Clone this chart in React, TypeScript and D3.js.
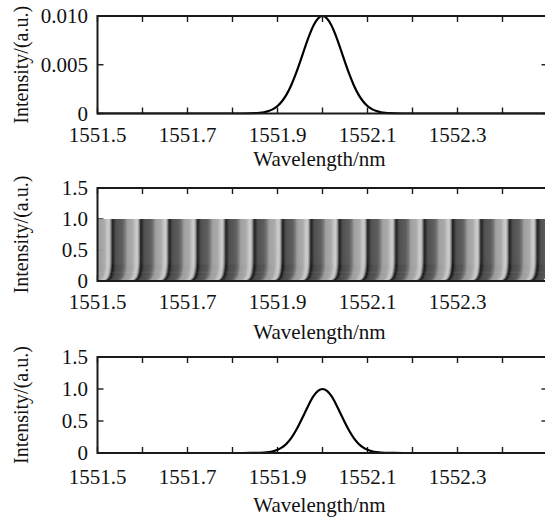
import React from "react";
import * as d3 from "d3";

// ---------- data ----------
const xTicks = [1551.5, 1551.6, 1551.7, 1551.8, 1551.9, 1552.0, 1552.1, 1552.2, 1552.3, 1552.4, 1552.5];
const xTickLabels = ["1551.5", "1551.7", "1551.9", "1552.1", "1552.3"];
const xLabelValues = [1551.5, 1551.7, 1551.9, 1552.1, 1552.3];

const topYTicks = [0, 0.005, 0.01];
const topYLabels = ["0", "0.005", "0.010"];
const unitYTicks = [0, 0.5, 1.0, 1.5];
const unitYLabels = ["0", "0.5", "1.0", "1.5"];

const pulseWavelength = [
  1551.5, 1551.8, 1551.82, 1551.84, 1551.85, 1551.86, 1551.87, 1551.88, 1551.89, 1551.9,
  1551.91, 1551.92, 1551.93, 1551.94, 1551.95, 1551.96, 1551.97, 1551.98, 1551.99, 1552.0,
  1552.01, 1552.02, 1552.03, 1552.04, 1552.05, 1552.06, 1552.07, 1552.08, 1552.09, 1552.1,
  1552.11, 1552.12, 1552.13, 1552.14, 1552.15, 1552.16, 1552.18, 1552.2, 1552.5,
];

const inputIntensity = [
  0, 0, 0.000002, 0.000014, 0.000032, 0.000066, 0.00013, 0.00025, 0.00045, 0.00077,
  0.00126, 0.00194, 0.00285, 0.00398, 0.00527, 0.00664, 0.00794, 0.00903, 0.00975, 0.01,
  0.00975, 0.00903, 0.00794, 0.00664, 0.00527, 0.00398, 0.00285, 0.00194, 0.00126, 0.00077,
  0.00045, 0.00025, 0.00013, 0.000066, 0.000032, 0.000014, 0.000002, 0, 0,
];

const outputIntensity = [
  0, 0, 0.0001, 0.0005, 0.0012, 0.0028, 0.006, 0.013, 0.026, 0.05,
  0.088, 0.146, 0.229, 0.339, 0.472, 0.618, 0.763, 0.887, 0.97, 1.0,
  0.97, 0.887, 0.763, 0.618, 0.472, 0.339, 0.229, 0.146, 0.088, 0.05,
  0.026, 0.013, 0.006, 0.0028, 0.0012, 0.0005, 0.0001, 0, 0,
];

// centres of the dark fringes in the middle (phase-modulated) panel, nm
const fringeCenters = [
  1551.534, 1551.597, 1551.66, 1551.723, 1551.786, 1551.849, 1551.912, 1551.975,
  1552.038, 1552.101, 1552.164, 1552.227, 1552.29, 1552.353, 1552.416, 1552.478,
];
const fringeTop = 1.0;
const fringeBendStart = 0.35;

// ---------- layout ----------
const W = 545;
const H = 518;
const plotLeft = 97.5;
const plotRight = 547.5;
const FONT = "Liberation Serif";
const INK = "#1a1a1a";
const textStyle: React.CSSProperties = { fontFamily: "'Liberation Serif', serif" };

const x = d3.scaleLinear().domain([1551.5, 1552.5]).range([plotLeft, plotRight]);

type PanelProps = {
  id: string;
  top: number;
  bottom: number;
  yMax: number;
  yTicks: number[];
  yLabels: string[];
  tickBaseline: number;
  titleBaseline: number;
  rightTicks: boolean;
  children?: (y: d3.ScaleLinear<number, number>) => React.ReactNode;
};

function Panel({ id, top, bottom, yMax, yTicks, yLabels, tickBaseline, titleBaseline, rightTicks, children }: PanelProps) {
  const y = d3.scaleLinear().domain([0, yMax]).range([bottom, top]);
  const tl = 6;
  return (
    <g>
      <defs>
        <clipPath id={id}>
          <rect x={plotLeft} y={top - 2} width={plotRight - plotLeft} height={bottom - top + 3} />
        </clipPath>
      </defs>
      {xTicks.map((t) => (
        <g key={"xt" + t}>
          <line x1={x(t)} x2={x(t)} y1={bottom} y2={bottom - tl} stroke={INK} strokeWidth={1.4} />
          <line x1={x(t)} x2={x(t)} y1={top} y2={top + tl} stroke={INK} strokeWidth={1.4} />
        </g>
      ))}
      {yTicks.map((t) => (
        <g key={"yt" + t}>
          <line x1={plotLeft} x2={plotLeft + tl} y1={y(t)} y2={y(t)} stroke={INK} strokeWidth={1.4} />
          {rightTicks && (
            <line x1={plotRight} x2={plotRight - tl} y1={y(t)} y2={y(t)} stroke={INK} strokeWidth={1.4} />
          )}
        </g>
      ))}
      <g clipPath={`url(#${id})`}>{children && children(y)}</g>
      <line x1={plotLeft} x2={plotRight} y1={top} y2={top} stroke={INK} strokeWidth={2} />
      <line x1={plotLeft} x2={plotRight} y1={bottom} y2={bottom} stroke={INK} strokeWidth={2} />
      <line x1={plotLeft} x2={plotLeft} y1={top - 1} y2={bottom + 1} stroke={INK} strokeWidth={2} />
      {xLabelValues.map((v, i) => (
        <text key={"xl" + v} x={x(v)} y={tickBaseline} textAnchor="middle" fontFamily={FONT} style={textStyle} fontSize={21} fill="#111">
          {xTickLabels[i]}
        </text>
      ))}
      {yTicks.map((t, i) => (
        <text key={"yl" + t} x={88} y={y(t)} dy="0.35em" textAnchor="end" fontFamily={FONT} style={textStyle} fontSize={21} fill="#111">
          {yLabels[i]}
        </text>
      ))}
      <text x={(plotLeft + plotRight) / 2 - 3} y={titleBaseline} textAnchor="middle" fontFamily={FONT} style={textStyle} fontSize={21} fill="#111">
        Wavelength/nm
      </text>
      <text
        transform={`translate(28,${(top + bottom) / 2}) rotate(-90)`}
        textAnchor="middle"
        fontFamily={FONT}
        style={textStyle}
        fontSize={20}
        fill="#111"
      >
        Intensity/(a.u.)
      </text>
    </g>
  );
}

const fringeColor = d3
  .scaleLinear<string>()
  .domain([0, 0.05, 0.12, 0.35, 0.45, 0.52, 0.72, 0.8, 0.88, 0.94, 1])
  .range(["#151515", "#2a2a2a", "#4a4a4a", "#585858", "#767676", "#9c9c9c", "#a8a8a8", "#c2c2c2", "#cccccc", "#8a8a8a", "#151515"])
  .interpolate(d3.interpolateRgb);

function Fringes({ y }: { y: d3.ScaleLinear<number, number> }) {
  const centers = fringeCenters.map((c) => x(c));
  const period = (centers[centers.length - 1] - centers[0]) / (centers.length - 1);
  const cols: React.ReactNode[] = [];
  const yTop = y(fringeTop);
  const yA = y(fringeBendStart);
  const y0 = y(0);
  for (let px = Math.floor(plotLeft); px <= plotRight; px += 1) {
    const i = d3.bisectRight(centers, px) - 1;
    const c0 = i >= 0 ? centers[i] : centers[0] - period;
    const c1 = i + 1 < centers.length ? centers[i + 1] : c0 + period;
    const p = (px - c0) / (c1 - c0);
    const d = `M${px},${yTop}L${px},${yA}Q${px},${y0} ${px - 7},${y0}`;
    cols.push(<path key={px} d={d} fill="none" stroke={fringeColor(p)} strokeWidth={1.6} />);
  }
  return <g>{cols}</g>;
}

export default function App() {
  const line = (yScale: d3.ScaleLinear<number, number>, vals: number[]) =>
    d3
      .line<number>()
      .x((_, i) => x(pulseWavelength[i]))
      .y((v) => yScale(v))
      .curve(d3.curveMonotoneX)(vals) || "";

  return (
    <div style={{ position: "absolute", left: 0, top: 0 }}>
      <svg width={W} height={H} viewBox={`0 0 ${W} ${H}`} style={{ display: "block", background: "#fff" }}>
        <rect x={0} y={0} width={W} height={H} fill="#fff" />
        <Panel id="c1" top={16} bottom={113.5} yMax={0.01} yTicks={topYTicks} yLabels={topYLabels} tickBaseline={142} titleBaseline={166} rightTicks={true}>
          {(y) => <path d={line(y, inputIntensity)} fill="none" stroke="#000" strokeWidth={2.2} />}
        </Panel>
        <Panel id="c2" top={188} bottom={281} yMax={1.5} yTicks={unitYTicks} yLabels={unitYLabels} tickBaseline={309} titleBaseline={339} rightTicks={false}>
          {(y) => <Fringes y={y} />}
        </Panel>
        <Panel id="c3" top={357} bottom={453} yMax={1.5} yTicks={unitYTicks} yLabels={unitYLabels} tickBaseline={484} titleBaseline={512} rightTicks={true}>
          {(y) => <path d={line(y, outputIntensity)} fill="none" stroke="#000" strokeWidth={2.2} />}
        </Panel>
      </svg>
    </div>
  );
}
